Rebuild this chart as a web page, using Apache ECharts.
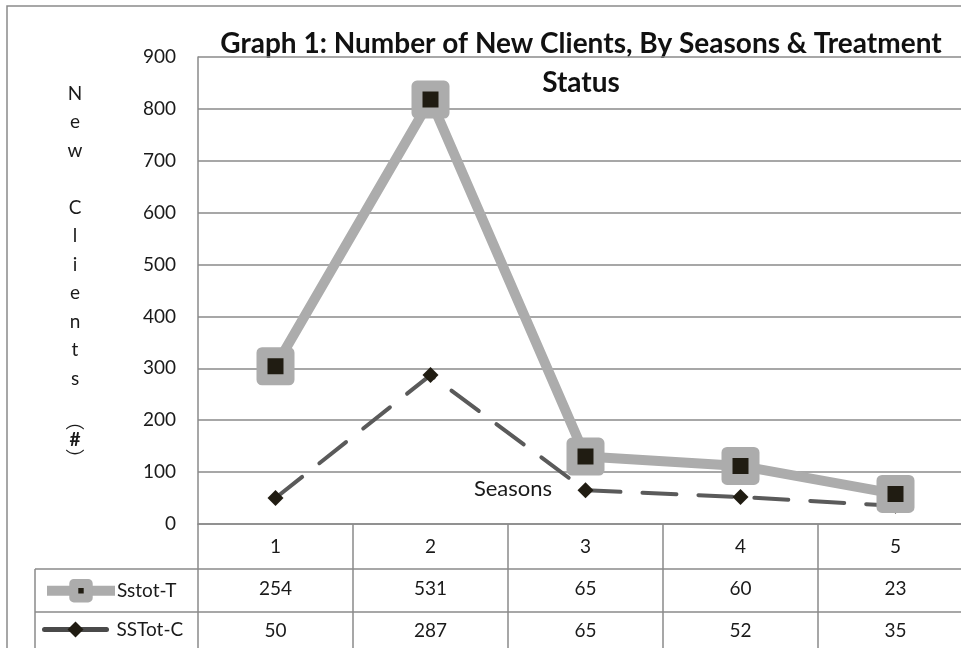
<!DOCTYPE html>
<html>
<head>
<meta charset="utf-8">
<script src="https://cdn.jsdelivr.net/npm/echarts@6/dist/echarts.min.js"></script>
<style>
  html, body { margin: 0; padding: 0; background: #fff; }
  #chart { width: 961px; height: 648px; }
</style>
</head>
<body>
<div id="chart"></div>
<script>
// data (table values; Sstot-T is plotted stacked on top of SSTot-C)
var seasons = ['1', '2', '3', '4', '5'];
var sstotT = [254, 531, 65, 60, 23];
var sstotC = [50, 287, 65, 52, 35];

var gridCol = '#8a8a8a';
var txtCol = '#1a1a1a';
var font = 'Lato';

var myChart = echarts.init(document.getElementById('chart'));

myChart.setOption({
  animation: false,
  grid: { left: 198, width: 775, top: 57, bottom: 124, outerBoundsMode: 'none', containLabel: false },
  legend: [
    {
      data: [{
        name: 'Sstot-T',
        lineStyle: { color: '#acacac', width: 10 },
        itemStyle: { color: '#201c12', borderColor: '#acacac', borderWidth: 9, borderJoin: 'round' }
      }],
      left: 42, top: 579, padding: 0,
      itemWidth: 68, itemHeight: 18,
      selectedMode: false,
      textStyle: { fontFamily: font, fontSize: 19, color: txtCol, padding: [0, 0, 0, -3] }
    },
    {
      data: [{
        name: 'SSTot-C',
        lineStyle: { color: '#4a4a4a', width: 5, type: 'solid' },
        itemStyle: { color: '#201c12' }
      }],
      left: 42, top: 620, padding: 0,
      itemWidth: 62, itemHeight: 20,
      selectedMode: false,
      textStyle: { fontFamily: font, fontSize: 19, color: txtCol, padding: [0, 0, 0, 5] }
    }
  ],
  xAxis: {
    type: 'category',
    data: seasons,
    boundaryGap: true,
    axisLine: { lineStyle: { color: gridCol, width: 1.5 } },
    axisTick: { show: true, interval: 0, length: 130, lineStyle: { color: gridCol, width: 1.5 } },
    axisLabel: {
      interval: 0,
      margin: 2,
      formatter: function (v, i) {
        return '{a|' + v + '}\n{a|' + sstotT[i] + '}\n{a|' + sstotC[i] + '}';
      },
      rich: {
        a: { fontFamily: font, fontSize: 19, color: txtCol, lineHeight: 42 }
      }
    }
  },
  yAxis: {
    type: 'value',
    min: 0, max: 900, interval: 100,
    axisLine: { show: true, lineStyle: { color: gridCol, width: 1.5 } },
    axisTick: { show: false },
    splitLine: { lineStyle: { color: gridCol, width: 1.5 } },
    axisLabel: { margin: 22, fontFamily: font, fontSize: 19, color: txtCol },
    name: 'N\ne\nw\n\nC\nl\ni\ne\nn\nt\ns\n{g| }\n{p|︵}\n{h|#}\n{p|︶}',
    nameLocation: 'middle',
    nameRotate: 0,
    nameGap: 123,
    nameTextStyle: {
      align: 'center', verticalAlign: 'middle',
      fontFamily: font, fontSize: 19, color: txtCol, lineHeight: 28.5,
      padding: [0, 0, 34, 0],
      rich: {
        g: { lineHeight: 20, fontSize: 10 },
        p: { lineHeight: 17, fontSize: 19, fontFamily: 'Noto Sans CJK SC', color: txtCol },
        h: { lineHeight: 21, fontSize: 19, fontFamily: font, color: txtCol, fontWeight: 'bold' }
      }
    }
  },
  series: [
    {
      name: 'SSTot-C',
      type: 'line',
      stack: 'total',
      data: sstotC,
      symbol: 'diamond',
      symbolSize: 16,
      lineStyle: { color: '#5a5a5a', width: 4, type: [34, 22], cap: 'round' },
      itemStyle: { color: '#201c12' },
      z: 2
    },
    {
      name: 'Sstot-T',
      type: 'line',
      stack: 'total',
      data: sstotT,
      symbol: 'rect',
      symbolSize: 27,
      lineStyle: { color: '#acacac', width: 10 },
      itemStyle: { color: '#201c12', borderColor: '#acacac', borderWidth: 11, borderJoin: 'round' },
      z: 3
    }
  ],
  graphic: [
    { type: 'rect', shape: { x: 7, y: 6, width: 1000, height: 700 }, style: { fill: 'none', stroke: gridCol, lineWidth: 1.5 }, silent: true },
    { type: 'line', shape: { x1: 35, y1: 569, x2: 961, y2: 569 }, style: { stroke: gridCol, lineWidth: 1.5 }, silent: true },
    { type: 'line', shape: { x1: 35, y1: 612, x2: 961, y2: 612 }, style: { stroke: gridCol, lineWidth: 1.5 }, silent: true },
    { type: 'line', shape: { x1: 35, y1: 569, x2: 35, y2: 648 }, style: { stroke: gridCol, lineWidth: 1.5 }, silent: true },
    {
      type: 'text', x: 581, y: 24, silent: true,
      style: {
        text: 'Graph 1: Number of New Clients, By Seasons & Treatment\nStatus',
        align: 'center', verticalAlign: 'top',
        font: 'bold 28px Lato', lineHeight: 39, fill: '#111'
      }
    },
    {
      type: 'text', x: 513, y: 489, silent: true,
      style: { text: 'Seasons', align: 'center', verticalAlign: 'middle', font: '22px Lato', fill: txtCol }
    }
  ]
});
</script>
</body>
</html>
